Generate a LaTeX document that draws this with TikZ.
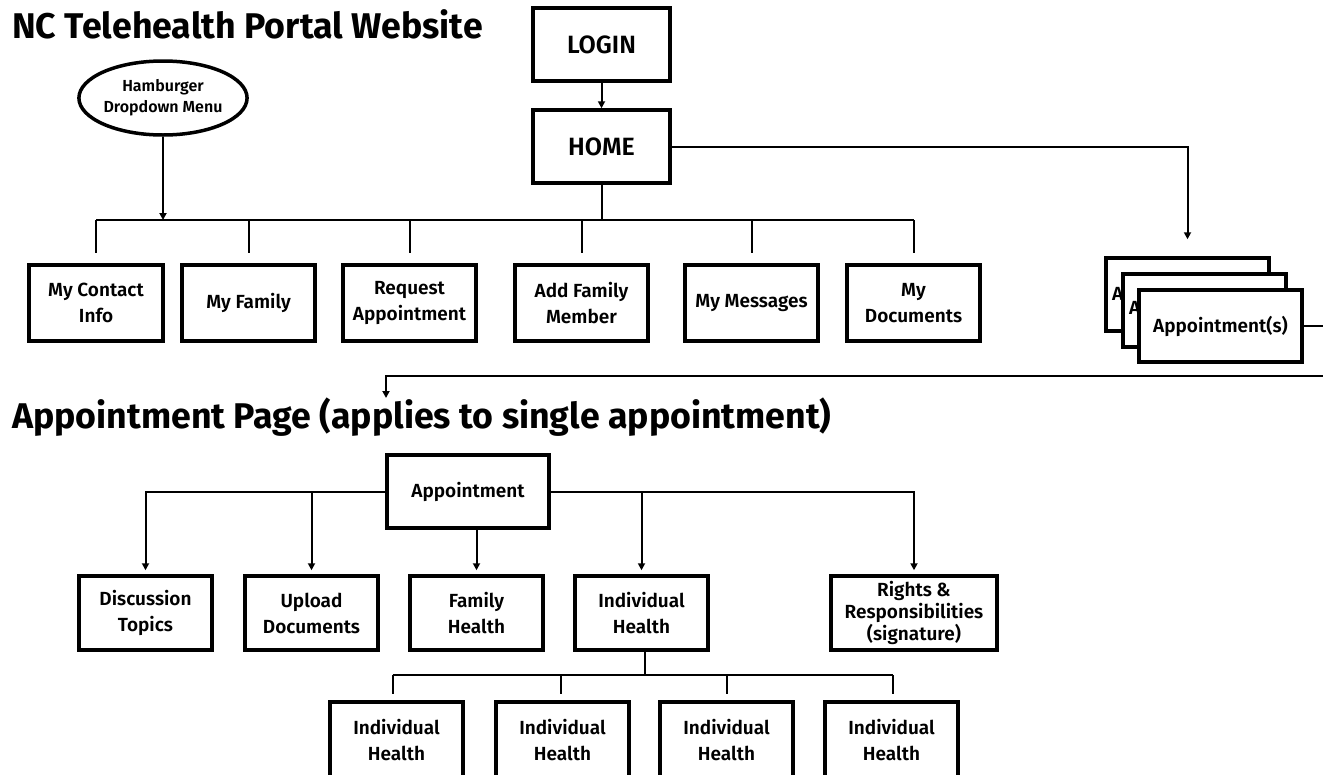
\documentclass[tikz,border=0pt]{standalone}
\usepackage{fontspec}
\setmainfont{Fira Sans}[BoldFont={Fira Sans SemiBold}]
\newfontfamily\titlefont{Fira Sans}
\usetikzlibrary{arrows.meta,shapes.geometric}
\tikzset{
  box/.style={draw, line width=3.5pt, fill=white, minimum width=133, minimum height=76, align=center, inner sep=2pt, font=\fontsize{19}{26}\selectfont\bfseries},
  bigbox/.style={box, minimum width=137, minimum height=73, font=\fontsize{25}{28}\selectfont\bfseries},
  conn/.style={line width=2pt},
  arr/.style={conn, -{Triangle[length=7pt,width=7pt]}},
  ttl/.style={anchor=base west, inner sep=0pt, font=\fontsize{35.7}{38}\selectfont\titlefont\bfseries},
  peek/.style={anchor=west, inner sep=0pt, font=\fontsize{19}{26}\selectfont\bfseries}
}
\begin{document}
\begin{tikzpicture}[x=1pt,y=-1pt]
\clip (0,0) rectangle (1323,774);
\fill[white] (0,0) rectangle (1323,774);

% titles
\node[ttl] (title1) at (12,38) {NC Telehealth Portal Website};
\node[ttl] (title2) at (12,428) {Appointment Page (applies to single appointment)};

% top part
\node[bigbox] (login) at (601.5,44.5) {LOGIN};
\node[bigbox] (home) at (601.5,146.5) {HOME};
\node[draw, ellipse, line width=3.5pt, minimum width=167, minimum height=74, inner sep=0pt, align=center, font=\fontsize{16}{21}\selectfont\bfseries] (ham) at (163,98) {Hamburger\\Dropdown Menu};

\node[box, minimum width=134] (contact) at (96,303) {My Contact\\Info};
\node[box] (family) at (248.5,303) {My Family};
\node[box] (request) at (409.5,303) {Request\\Appointment};
\node[box] (addfam) at (581.5,303) {Add Family\\Member};
\node[box] (messages) at (751.5,303) {My Messages};
\node[box] (documents) at (913.5,303) {My\\Documents};

\coordinate (bus) at (0,220);
\draw[arr] (login) -- (home);
\draw[conn] (home.south) -- (home.south |- bus);
\draw[conn] (contact.north |- bus) -- (documents.north |- bus);
\foreach \n in {contact,family,request,addfam,messages,documents}
  \draw[conn] (\n.north |- bus) -- ([yshift=10pt]\n.north);
\draw[arr] (ham.south) -- (ham.south |- bus);

% stack of appointments (back cards show only their first letter)
\node[box, minimum width=163, minimum height=73] (s1) at (1187.5,294.5) {};
\node[peek] (s1t) at (1112,294) {A};
\node[box, minimum width=163, minimum height=73] (s2) at (1204.5,310.5) {};
\node[peek] (s2t) at (1129,308) {A};
\node[box, minimum width=163, minimum height=72] (s3) at (1220.5,326) {Appointment(s)};
\draw[arr] (home.east) -| ([yshift=17pt]s1.north);

\coordinate (edgeA) at (1330,326);
\coordinate (edgeB) at (1330,376);
\coordinate (apptgt) at (386,398);
\draw[conn] (s3.east) -- (edgeA);
\draw[arr] (edgeB) -| (apptgt);

% appointment page
\node[box, minimum width=162, minimum height=73] (appt) at (468,491.5) {Appointment};
\node[box, minimum height=74] (disc) at (145.5,613) {Discussion\\Topics};
\node[box, minimum height=74] (upload) at (311.5,613) {Upload\\Documents};
\node[box, minimum height=74] (famh) at (476.5,613) {Family\\Health};
\node[box, minimum height=74] (indh) at (641.5,613) {Individual\\Health};
\node[box, minimum height=74, minimum width=166] (rights) at (914,613) {Rights \&\\[-4pt]Responsibilities\\[-4pt](signature)};

\draw[arr] (appt.west) -| ([yshift=4pt]disc.north);
\draw[arr] (upload.north |- appt.west) -- ([yshift=4pt]upload.north);
\draw[arr] (famh.north |- appt.south) -- ([yshift=4pt]famh.north);
\draw[arr] (appt.east) -| ([yshift=4pt]rights.north);
\draw[arr] (indh.north |- appt.east) -- ([yshift=4pt]indh.north);

% individual health children
\node[box] (i1) at (396.5,740) {Individual\\Health};
\node[box] (i2) at (562.5,740) {Individual\\Health};
\node[box] (i3) at (726.5,740) {Individual\\Health};
\node[box] (i4) at (891.5,740) {Individual\\Health};
\coordinate (bus2) at (0,675);
\draw[conn] ([xshift=3pt]indh.south) -- ([xshift=3pt]indh.south |- bus2);
\draw[conn] ([xshift=-4pt]i1.north |- bus2) -- ([xshift=1pt]i4.north |- bus2);
\draw[conn] ([xshift=-4pt]i1.north |- bus2) -- ([xshift=-4pt,yshift=6pt]i1.north);
\draw[conn] ([xshift=-2pt]i2.north |- bus2) -- ([xshift=-2pt,yshift=6pt]i2.north);
\draw[conn] (i3.north |- bus2) -- ([yshift=6pt]i3.north);
\draw[conn] ([xshift=1pt]i4.north |- bus2) -- ([xshift=1pt,yshift=6pt]i4.north);
\end{tikzpicture}
\end{document}
